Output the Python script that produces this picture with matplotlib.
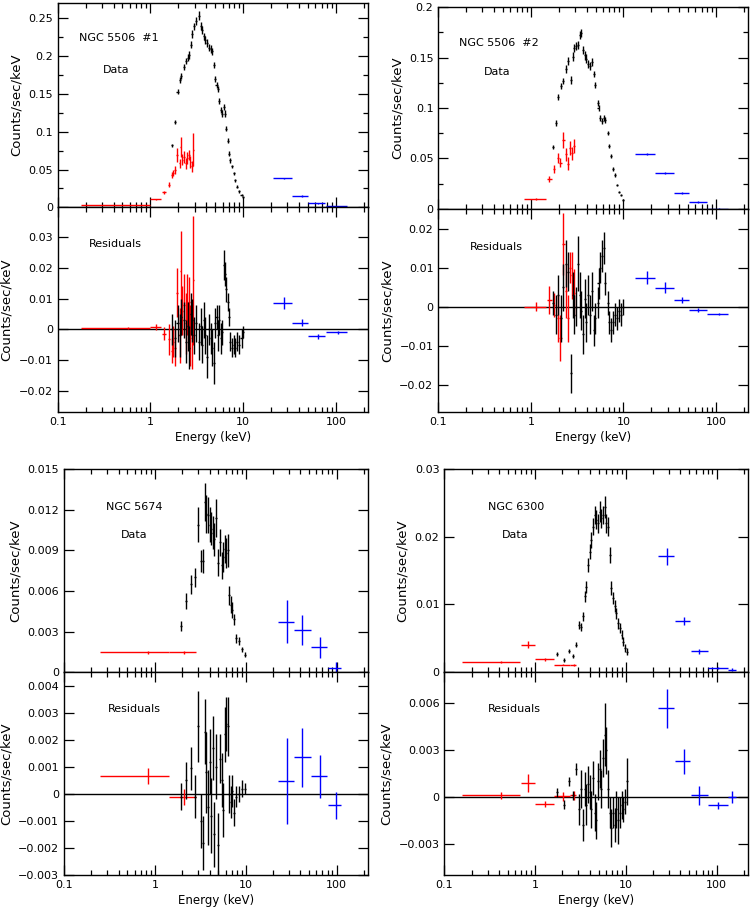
import numpy as np
import matplotlib
matplotlib.use('Agg')
import matplotlib.pyplot as plt
from matplotlib.ticker import (MultipleLocator, FixedLocator, FuncFormatter,
                               LogLocator, NullLocator, NullFormatter)

# ---------------- NGC 5506 #1 ----------------
n5506a_blk_e = [1.71, 1.83, 1.96, 2.09, 2.16, 2.28, 2.41, 2.52, 2.61, 2.71, 2.81, 2.96, 3.14, 3.32,
                3.52, 3.64, 3.78, 3.92, 4.12, 4.26, 4.48, 4.62, 4.82, 5.0, 5.16, 5.37, 5.55, 5.73,
                5.93, 6.18, 6.44, 6.6, 6.8, 7.06, 7.3, 7.6, 7.98, 8.25, 8.6, 9.05, 9.6, 10.0]
n5506a_blk_y = [0.082, 0.113, 0.153, 0.168, 0.174, 0.185, 0.193, 0.198, 0.201, 0.215, 0.229, 0.239,
                0.246, 0.253, 0.240, 0.234, 0.226, 0.221, 0.217, 0.211, 0.209, 0.206, 0.188, 0.170,
                0.162, 0.157, 0.140, 0.129, 0.124, 0.133, 0.124, 0.104, 0.088, 0.071, 0.062, 0.054,
                0.045, 0.036, 0.027, 0.021, 0.016, 0.014]
n5506a_blk_yerr = [0.002, 0.003, 0.003, 0.004, 0.004, 0.004, 0.004, 0.004, 0.005, 0.005, 0.005, 0.005,
                   0.005, 0.006, 0.005, 0.005, 0.005, 0.005, 0.005, 0.005, 0.005, 0.005, 0.004, 0.004,
                   0.004, 0.004, 0.004, 0.004, 0.004, 0.004, 0.004, 0.003, 0.003, 0.003, 0.003, 0.002,
                   0.002, 0.002, 0.002, 0.002, 0.001, 0.001]
n5506a_blk_res = [0.000, -0.003, 0.002, -0.002, 0.004, 0.003, -0.004, 0.001, -0.006, 0.005, 0.003, -0.002,
                  0.002, -0.004, 0.001, -0.005, 0.003, -0.002, -0.009, 0.000, -0.003, -0.006, -0.011, 0.002,
                  0.004, -0.002, 0.003, -0.003, -0.001, 0.021, 0.018, 0.013, 0.009, 0.004, -0.004, -0.006,
                  -0.005, -0.006, -0.004, -0.005, -0.003, -0.001]
n5506a_blk_reserr = [0.005, 0.006, 0.006, 0.007, 0.006, 0.006, 0.007, 0.008, 0.007, 0.007, 0.007, 0.006,
                     0.006, 0.006, 0.006, 0.006, 0.006, 0.006, 0.007, 0.005, 0.005, 0.006, 0.007, 0.005,
                     0.004, 0.005, 0.005, 0.005, 0.004, 0.005, 0.004, 0.004, 0.003, 0.003, 0.003, 0.003,
                     0.003, 0.003, 0.003, 0.003, 0.003, 0.002]
n5506a_red_e = [0.57, 1.14, 1.40, 1.59, 1.69, 1.76, 1.83, 1.95, 2.07, 2.12, 2.21, 2.31, 2.41, 2.51,
                2.61, 2.70, 2.81, 2.88]
n5506a_red_lo = [0.18, 1.0, 1.33, 1.53, 1.65, 1.73, 1.79, 1.91, 2.03, 2.09, 2.17, 2.26, 2.36, 2.46,
                 2.56, 2.65, 2.76, 2.85]
n5506a_red_hi = [1.0, 1.31, 1.47, 1.64, 1.73, 1.79, 1.88, 2.0, 2.09, 2.15, 2.26, 2.36, 2.46, 2.56,
                 2.65, 2.75, 2.85, 2.92]
n5506a_red_y = [0.003, 0.0106, 0.020, 0.030, 0.043, 0.045, 0.049, 0.069, 0.058, 0.080, 0.063, 0.067,
                0.058, 0.065, 0.069, 0.060, 0.054, 0.076]
n5506a_red_yerr = [0.0005, 0.001, 0.002, 0.003, 0.004, 0.004, 0.005, 0.009, 0.006, 0.013, 0.007, 0.008,
                   0.007, 0.008, 0.007, 0.008, 0.007, 0.022]
n5506a_red_res = [0.0003, 0.0008, -0.0014, -0.0033, -0.007, -0.004, -0.006, 0.012, -0.002, 0.019, 0.006,
                  0.008, 0.002, 0.008, 0.009, -0.002, -0.003, 0.016]
n5506a_red_reserr = [0.0003, 0.001, 0.002, 0.005, 0.004, 0.005, 0.006, 0.008, 0.009, 0.013, 0.008, 0.010,
                     0.010, 0.010, 0.008, 0.010, 0.010, 0.021]
n5506a_blu_e = [27.5, 42.6, 64.2, 105.0]
n5506a_blu_lo = [21.1, 33.4, 50.5, 78.0]
n5506a_blu_hi = [33.4, 50.5, 77.0, 132.0]
n5506a_blu_y = [0.0384, 0.0150, 0.0053, 0.0013]
n5506a_blu_yerr = [0.001, 0.0008, 0.0006, 0.0008]
n5506a_blu_res = [0.0085, 0.0022, -0.0023, -0.0010]
n5506a_blu_reserr = [0.0020, 0.0012, 0.0008, 0.0004]

# ---------------- NGC 5506 #2 ----------------
n5506b_blk_e = [1.73, 1.85, 1.98, 2.11, 2.25, 2.41, 2.55, 2.70, 2.82, 2.96, 3.09, 3.22, 3.36, 3.47,
                3.62, 3.80, 3.99, 4.19, 4.38, 4.56, 4.76, 4.96, 5.25, 5.38, 5.61, 5.85, 6.1, 6.36,
                6.74, 7.03, 7.33, 7.64, 8.03, 8.44, 8.87, 9.41, 10.0]
n5506b_blk_y = [0.0612, 0.0849, 0.111, 0.122, 0.127, 0.139, 0.147, 0.128, 0.151, 0.159, 0.161, 0.162,
                0.172, 0.174, 0.157, 0.152, 0.149, 0.144, 0.142, 0.146, 0.134, 0.123, 0.105, 0.100,
                0.090, 0.087, 0.090, 0.088, 0.075, 0.062, 0.052, 0.040, 0.034, 0.024, 0.017, 0.014, 0.009]
n5506b_blk_yerr = [0.002, 0.003, 0.003, 0.003, 0.003, 0.004, 0.004, 0.004, 0.004, 0.004, 0.004, 0.004,
                   0.004, 0.004, 0.004, 0.004, 0.004, 0.004, 0.004, 0.004, 0.003, 0.003, 0.003, 0.003,
                   0.003, 0.003, 0.003, 0.003, 0.002, 0.002, 0.002, 0.002, 0.002, 0.001, 0.001, 0.001, 0.001]
n5506b_blk_res = [0.001, -0.002, 0.003, -0.003, 0.005, 0.011, 0.009, -0.017, 0.003, -0.002, 0.000, 0.011,
                  0.003, -0.001, -0.007, 0.002, -0.004, 0.003, -0.002, 0.004, -0.006, -0.003, 0.001, 0.006,
                  0.010, 0.013, 0.015, 0.006, 0.001, -0.004, -0.006, -0.004, -0.002, -0.003, -0.001,
                  -0.002, 0.000]
n5506b_blk_reserr = [0.003, 0.005, 0.005, 0.006, 0.006, 0.006, 0.005, 0.005, 0.006, 0.005, 0.005, 0.007,
                     0.006, 0.005, 0.005, 0.005, 0.005, 0.005, 0.005, 0.005, 0.004, 0.004, 0.004, 0.004,
                     0.004, 0.004, 0.004, 0.003, 0.003, 0.003, 0.003, 0.003, 0.003, 0.003, 0.003, 0.003,
                     0.002]
n5506b_red_e = [1.15, 1.58, 1.77, 1.96, 2.09, 2.25, 2.37, 2.51, 2.66, 2.80, 2.92]
n5506b_red_lo = [0.85, 1.49, 1.72, 1.90, 2.03, 2.18, 2.31, 2.44, 2.59, 2.74, 2.86]
n5506b_red_hi = [1.46, 1.69, 1.83, 2.02, 2.16, 2.31, 2.44, 2.58, 2.73, 2.86, 2.98]
n5506b_red_y = [0.0099, 0.0296, 0.0395, 0.0503, 0.046, 0.068, 0.054, 0.045, 0.060, 0.055, 0.062]
n5506b_red_yerr = [0.0008, 0.003, 0.004, 0.005, 0.004, 0.008, 0.006, 0.006, 0.007, 0.006, 0.007]
n5506b_red_res = [0.0, 0.0017, 0.0004, -0.003, -0.008, 0.016, 0.004, -0.003, 0.010, 0.008, 0.0036]
n5506b_red_reserr = [0.0012, 0.0035, 0.003, 0.006, 0.006, 0.008, 0.007, 0.006, 0.004, 0.006, 0.006]
n5506b_blu_e = [17.9, 28.3, 42.8, 63.8, 107.0]
n5506b_blu_lo = [13.2, 21.7, 34.9, 50.7, 80.0]
n5506b_blu_hi = [21.7, 34.9, 50.7, 80.0, 134.0]
n5506b_blu_y = [0.0543, 0.0359, 0.0158, 0.0069, 0.0004]
n5506b_blu_yerr = [0.001, 0.001, 0.0008, 0.0006, 0.0005]
n5506b_blu_res = [0.0074, 0.0049, 0.0017, -0.0008, -0.0018]
n5506b_blu_reserr = [0.0017, 0.0013, 0.0008, 0.0005, 0.0003]

# ---------------- NGC 5674 ----------------
n5674_blk_e = [1.93, 2.23, 2.52, 2.76, 3.0, 3.19, 3.38, 3.56, 3.68, 3.84, 4.0, 4.18, 4.36, 4.5, 4.66,
               4.95, 5.2, 5.47, 5.66, 5.91, 6.12, 6.33, 6.54, 6.83, 7.06, 7.42, 7.87, 8.36, 9.02, 9.83]
n5674_blk_y = [0.00342, 0.00526, 0.0065, 0.0070, 0.0109, 0.0082, 0.0082, 0.0126, 0.0117, 0.0116, 0.0109,
               0.0106, 0.0103, 0.0098, 0.0114, 0.0081, 0.0096, 0.0079, 0.0085, 0.0091, 0.0088, 0.0090,
               0.0057, 0.0050, 0.0046, 0.0039, 0.0025, 0.0023, 0.0017, 0.0013]
n5674_blk_yerr = [0.0004, 0.0006, 0.0007, 0.0007, 0.0013, 0.0008, 0.0009, 0.0014, 0.0014, 0.0013, 0.0013,
                  0.0012, 0.0012, 0.0012, 0.0014, 0.0010, 0.0010, 0.0010, 0.0011, 0.0010, 0.0011, 0.0012,
                  0.0007, 0.0006, 0.0006, 0.0004, 0.0003, 0.0003, 0.0002, 0.0002]
n5674_blk_res = [-0.0001, 0.0005, 0.00095, -0.0001, 0.0025, -0.0010, -0.0018, 0.0023, 0.0008, -0.0005,
                 0.0012, -0.0008, 0.0017, -0.0015, 0.0010, -0.0019, 0.0013, 0.0005, -0.0006, 0.0022,
                 0.0026, 0.0025, 0.0000, -0.0003, 0.0001, -0.0007, -0.0001, 0.0000, 0.0002, 0.0002]
n5674_blk_reserr = [0.0005, 0.0007, 0.0008, 0.0008, 0.0013, 0.0010, 0.0010, 0.0012, 0.0015, 0.0014, 0.0012,
                    0.0014, 0.0012, 0.0012, 0.0012, 0.0012, 0.0009, 0.0010, 0.0010, 0.0010, 0.0010, 0.0011,
                    0.0007, 0.0006, 0.0006, 0.0005, 0.0004, 0.0003, 0.0003, 0.0002]
n5674_red_e = [0.84, 2.12]
n5674_red_lo = [0.247, 1.43]
n5674_red_hi = [1.43, 2.81]
n5674_red_y = [0.00148, 0.00148]
n5674_red_yerr = [0.0001, 0.0001]
n5674_red_res = [0.00066, -0.0001]
n5674_red_reserr = [0.0003, 0.0003]
n5674_blu_e = [28.3, 42.1, 65.3, 98.0]
n5674_blu_lo = [22.4, 34.1, 52.0, 80.0]
n5674_blu_hi = [34.1, 52.0, 79.0, 111.0]
n5674_blu_y = [0.00374, 0.00312, 0.00184, 0.00034]
n5674_blu_yerr = [0.0016, 0.0011, 0.0008, 0.0004]
n5674_blu_res = [0.00047, 0.00135, 0.00065, -0.00042]
n5674_blu_reserr = [0.0016, 0.0011, 0.0008, 0.0005]

# ---------------- NGC 6300 ----------------
n6300_blk_e = [1.76, 2.07, 2.35, 2.6, 2.83, 3.08, 3.19, 3.36, 3.53, 3.68, 3.84, 4.0, 4.17, 4.36, 4.55,
               4.75, 4.95, 5.16, 5.39, 5.62, 5.86, 6.12, 6.38, 6.66, 6.95, 7.25, 7.56, 7.89, 8.23, 8.59,
               8.96, 9.35, 9.76, 10.2]
n6300_blk_y = [0.00266, 0.00182, 0.00305, 0.00241, 0.00403, 0.00698, 0.0066, 0.0082, 0.0112, 0.0126,
               0.0158, 0.0178, 0.0195, 0.0215, 0.0232, 0.0225, 0.0220, 0.0237, 0.0227, 0.0232, 0.0244,
               0.0220, 0.0215, 0.0173, 0.0124, 0.0109, 0.0097, 0.0087, 0.0072, 0.0065, 0.0055, 0.0045,
               0.0035, 0.0030]
n6300_blk_yerr = [0.0003, 0.0003, 0.0003, 0.0003, 0.0004, 0.0006, 0.0006, 0.0007, 0.0008, 0.0009, 0.0010,
                  0.0011, 0.0012, 0.0013, 0.0014, 0.0014, 0.0014, 0.0015, 0.0014, 0.0014, 0.0016, 0.0014,
                  0.0014, 0.0012, 0.0010, 0.0009, 0.0009, 0.0008, 0.0008, 0.0007, 0.0007, 0.0006, 0.0006,
                  0.0005]
n6300_blk_res = [0.0003, -0.0005, 0.0010, 0.0001, 0.0018, -0.0008, 0.0005, -0.0018, 0.0005, -0.0005,
                 0.0008, 0.0003, -0.0008, 0.0012, -0.0010, -0.0015, 0.0010, 0.0018, 0.0005, 0.0025,
                 0.0040, 0.0030, 0.0005, -0.0010, -0.0020, -0.0010, -0.0018, -0.0008, -0.0015, -0.0010,
                 -0.0005, -0.0008, -0.0003, 0.0010]
n6300_blk_reserr = [0.0003, 0.0003, 0.0003, 0.0003, 0.0004, 0.0010, 0.0012, 0.0010, 0.0011, 0.0013, 0.0012,
                    0.0011, 0.0012, 0.0011, 0.0012, 0.0012, 0.0012, 0.0012, 0.0012, 0.0012, 0.0020, 0.0015,
                    0.0012, 0.0010, 0.0012, 0.0010, 0.0011, 0.0012, 0.0015, 0.0010, 0.0009, 0.0008, 0.0008,
                    0.0015]
n6300_red_e = [0.425, 0.837, 1.3, 2.04, 2.68]
n6300_red_lo = [0.157, 0.70, 1.0, 1.6, 2.45]
n6300_red_hi = [0.69, 1.0, 1.6, 2.45, 2.8]
n6300_red_y = [0.00148, 0.00403, 0.00187, 0.00108, 0.00105]
n6300_red_yerr = [0.0001, 0.0005, 0.0002, 0.0001, 0.0001]
n6300_red_res = [0.0001, 0.0009, -0.00045, 0.00004, 0.0001]
n6300_red_reserr = [0.0002, 0.0006, 0.0002, 0.0003, 0.0003]
n6300_blu_e = [28.1, 44.0, 64.5, 104.0, 149.0]
n6300_blu_lo = [22.4, 34.5, 52.0, 81.0, 134.0]
n6300_blu_hi = [34.1, 50.7, 80.0, 134.0, 165.0]
n6300_blu_y = [0.01707, 0.00757, 0.00305, 0.0006, 0.00034]
n6300_blu_yerr = [0.0012, 0.0006, 0.0004, 0.0002, 0.0002]
n6300_blu_res = [0.00568, 0.00229, 0.0001, -0.00054, 0.0]
n6300_blu_reserr = [0.00125, 0.0008, 0.0006, 0.0002, 0.0004]

XTICKS = [0.1, 1, 10, 100]


def fmt_tick(v, pos):
    if abs(v) < 1e-12:
        return '0'
    return ('%g' % v).replace('-', '\u2212')


def setup_axis(ax, ylim, ystep, yminor=None, show_x=False):
    ax.set_xscale('log')
    ax.set_xlim(0.1, 220)
    ax.set_ylim(*ylim)
    ax.xaxis.set_major_locator(FixedLocator(XTICKS))
    ax.xaxis.set_minor_locator(LogLocator(base=10, subs=np.arange(2, 10), numticks=20))
    ax.xaxis.set_minor_formatter(NullFormatter())
    if show_x:
        ax.xaxis.set_major_formatter(FuncFormatter(fmt_tick))
        ax.set_xlabel('Energy (keV)', fontsize=8.5, labelpad=3)
    else:
        ax.xaxis.set_major_formatter(NullFormatter())
    ax.yaxis.set_major_locator(MultipleLocator(ystep))
    if yminor:
        ax.yaxis.set_minor_locator(MultipleLocator(yminor))
    else:
        ax.yaxis.set_minor_locator(NullLocator())
    ax.yaxis.set_major_formatter(FuncFormatter(fmt_tick))
    ax.set_ylabel('Counts/sec/keV', fontsize=9.5, labelpad=4)
    ax.tick_params(which='both', direction='in', top=True, right=True, labelsize=8, width=0.9)
    ax.tick_params(which='major', length=7)
    ax.tick_params(which='minor', length=3.5)
    for sp in ax.spines.values():
        sp.set_linewidth(1.0)


def draw_bins(ax, e, lo, hi, y, err, color):
    e = np.array(e)
    xerr = [e - np.array(lo), np.array(hi) - e]
    ax.errorbar(e, y, xerr=xerr, yerr=err, fmt='none', ecolor=color, elinewidth=1.0, capsize=0)


def draw_black(ax, e, y, err):
    e = np.array(e)
    xerr = e * 0.025
    ax.errorbar(e, y, xerr=xerr, yerr=err, fmt='none', ecolor='black', elinewidth=1.0, capsize=0)


def draw_panel(fig, rect_data, rect_res, name, d, ylim_d, step_d, minor_d, ylim_r, step_r, txt_pos):
    ax = fig.add_axes(rect_data)
    setup_axis(ax, ylim_d, step_d, minor_d)
    draw_bins(ax, d['red_e'], d['red_lo'], d['red_hi'], d['red_y'], d['red_yerr'], 'red')
    draw_black(ax, d['blk_e'], d['blk_y'], d['blk_yerr'])
    draw_bins(ax, d['blu_e'], d['blu_lo'], d['blu_hi'], d['blu_y'], d['blu_yerr'], 'blue')
    (nx, ny), (dx, dy), (rx, ry) = txt_pos
    ax.text(nx, ny, name, transform=ax.transAxes, fontsize=8, va='center', ha='left')
    ax.text(dx, dy, 'Data', transform=ax.transAxes, fontsize=8, va='center', ha='left')

    ar = fig.add_axes(rect_res)
    setup_axis(ar, ylim_r, step_r, None, show_x=True)
    ar.axhline(0, color='black', lw=1.0)
    draw_bins(ar, d['red_e'], d['red_lo'], d['red_hi'], d['red_res'], d['red_reserr'], 'red')
    draw_black(ar, d['blk_e'], d['blk_res'], d['blk_reserr'])
    draw_bins(ar, d['blu_e'], d['blu_lo'], d['blu_hi'], d['blu_res'], d['blu_reserr'], 'blue')
    ar.text(rx, ry, 'Residuals', transform=ar.transAxes, fontsize=8, va='center', ha='left')


def collect(prefix):
    g = globals()
    keys = ['blk_e', 'blk_y', 'blk_yerr', 'blk_res', 'blk_reserr',
            'red_e', 'red_lo', 'red_hi', 'red_y', 'red_yerr', 'red_res', 'red_reserr',
            'blu_e', 'blu_lo', 'blu_hi', 'blu_y', 'blu_yerr', 'blu_res', 'blu_reserr']
    return {k: g[prefix + '_' + k] for k in keys}


def main():
    fig = plt.figure(figsize=(7.5, 9.13), dpi=100)

    draw_panel(fig, [0.0769, 0.7729, 0.4133, 0.2238], [0.0769, 0.5487, 0.4133, 0.2242],
               'NGC 5506  #1', collect('n5506a'), (0, 0.27), 0.05, 0.025, (-0.027, 0.0398), 0.01,
               ((0.069, 0.829), (0.146, 0.672), (0.101, 0.819)))
    draw_panel(fig, [0.5844, 0.7711, 0.4125, 0.2212], [0.5844, 0.5484, 0.4125, 0.2227],
               'NGC 5506  #2', collect('n5506b'), (0, 0.2), 0.05, 0.025, (-0.027, 0.025), 0.01,
               ((0.067, 0.822), (0.148, 0.678), (0.102, 0.815)))
    draw_panel(fig, [0.0853, 0.2636, 0.4049, 0.2227], [0.0853, 0.0416, 0.4049, 0.2220],
               'NGC 5674', collect('n5674'), (0, 0.015), 0.003, None, (-0.003, 0.0045), 0.001,
               ((0.14, 0.815), (0.187, 0.675), (0.143, 0.819)))
    draw_panel(fig, [0.5924, 0.2640, 0.4045, 0.2223], [0.5924, 0.0416, 0.4045, 0.2223],
               'NGC 6300', collect('n6300'), (0, 0.03), 0.01, None, (-0.005, 0.008), 0.003,
               ((0.143, 0.815), (0.189, 0.675), (0.145, 0.817)))

    fig.savefig('out.png', dpi=100)


if __name__ == '__main__':
    main()
